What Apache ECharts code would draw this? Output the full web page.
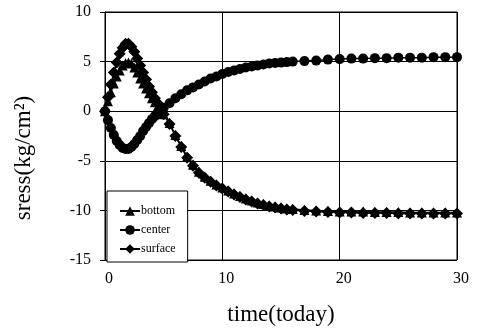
<!DOCTYPE html>
<html>
<head>
<meta charset="utf-8">
<script src="https://cdn.jsdelivr.net/npm/echarts@6/dist/echarts.min.js"></script>
<style>
  html, body { margin: 0; padding: 0; background: #fff; }
  #chart { width: 480px; height: 331px; }
</style>
</head>
<body>
<div id="chart"></div>
<script>
// time (days)
var times = [0,0.25,0.5,0.75,1,1.25,1.5,1.75,2,2.25,2.5,2.75,3,3.25,3.5,3.75,4,4.25,4.5,4.75,5,
  5.5,6,6.5,7,7.5,8,8.5,9,9.5,10,10.5,11,11.5,12,12.5,13,13.5,14,14.5,15,15.5,16,
  17,18,19,20,21,22,23,24,25,26,27,28,29,30];

var bottom = [0,1.0,1.9,2.8,3.5,4.1,4.6,4.85,4.9,4.8,4.4,3.9,3.3,2.8,2.3,1.8,1.3,0.9,0.5,0.1,-0.3,
  -1.2,-2.4,-3.5,-4.6,-5.4,-6.1,-6.6,-7.0,-7.4,-7.7,-8.0,-8.3,-8.55,-8.8,-9.0,-9.2,-9.35,-9.5,-9.6,-9.7,-9.8,-9.85,
  -9.95,-10.0,-10.05,-10.1,-10.1,-10.1,-10.15,-10.15,-10.15,-10.2,-10.2,-10.2,-10.2,-10.2];

var center = [0,-0.9,-1.7,-2.4,-3.0,-3.4,-3.7,-3.8,-3.8,-3.6,-3.3,-2.9,-2.5,-2.0,-1.6,-1.2,-0.8,-0.5,-0.2,0.1,0.35,
  0.8,1.3,1.7,2.1,2.4,2.7,3.0,3.3,3.5,3.75,3.95,4.1,4.25,4.4,4.5,4.6,4.7,4.8,4.85,4.9,4.95,5.0,
  5.05,5.1,5.2,5.25,5.3,5.3,5.35,5.35,5.4,5.4,5.4,5.45,5.45,5.45];

var surface = [0,1.4,2.7,3.9,4.9,5.8,6.4,6.8,6.8,6.5,6.0,5.3,4.6,3.9,3.2,2.5,1.9,1.3,0.8,0.2,-0.3,
  -1.3,-2.5,-3.6,-4.7,-5.5,-6.2,-6.7,-7.1,-7.5,-7.8,-8.1,-8.4,-8.65,-8.9,-9.1,-9.3,-9.45,-9.6,-9.7,-9.8,-9.9,-9.95,
  -10.05,-10.1,-10.15,-10.2,-10.2,-10.25,-10.25,-10.25,-10.3,-10.3,-10.3,-10.3,-10.3,-10.3];

var seriesNames = ['bottom', 'center', 'surface'];
var seriesSymbols = ['triangle', 'circle', 'diamond'];
var seriesSizes = [10, 10, 12];

function pairs(vals) {
  return times.map(function (t, i) { return [t, vals[i]]; });
}

var chart = echarts.init(document.getElementById('chart'));
var font = '"Liberation Serif", "DejaVu Serif", serif';

var allData = [bottom, center, surface];
var seriesArr = allData.map(function (vals, i) {
  return {
    name: seriesNames[i],
    type: 'line',
    data: pairs(vals),
    symbol: seriesSymbols[i],
    symbolSize: seriesSizes[i],
    showAllSymbol: true,
    itemStyle: { color: '#000' },
    lineStyle: { color: '#000', width: 1.5 },
    animation: false
  };
});

chart.setOption({
  backgroundColor: '#fff',
  textStyle: { fontFamily: font },
  grid: { left: 105, right: 23, top: 12, bottom: 69, show: true, borderColor: '#000', borderWidth: 1 },
  xAxis: {
    type: 'value',
    min: 0, max: 30, interval: 10,
    name: 'time(today)',
    nameLocation: 'middle',
    nameGap: 43,
    nameTextStyle: { fontFamily: font, fontSize: 23, color: '#000' },
    axisLine: { show: true, lineStyle: { color: '#000' } },
    axisTick: { show: false },
    axisLabel: { fontFamily: font, fontSize: 16, color: '#000', margin: 11, padding: [0, 0, 0, 8] },
    splitLine: { show: true, lineStyle: { color: '#000', width: 1 } }
  },
  yAxis: {
    type: 'value',
    min: -15, max: 10, interval: 5,
    name: 'sress(kg/cm²)',
    nameLocation: 'middle',
    nameGap: 70,
    nameTextStyle: { fontFamily: font, fontSize: 23, color: '#000', padding: [0, 0, 0, -44] },
    axisLine: { show: true, lineStyle: { color: '#000' } },
    axisTick: { show: true, length: 5, inside: false, lineStyle: { color: '#000' } },
    axisLabel: { fontFamily: font, fontSize: 16, color: '#000', margin: 14 },
    splitLine: { show: true, lineStyle: { color: '#000', width: 1 } }
  },
  legend: {
    data: seriesNames,
    orient: 'vertical',
    left: 107,
    top: 191,
    padding: [14, 12, 7, 12],
    itemGap: 7,
    itemWidth: 20,
    itemHeight: 12,
    backgroundColor: '#fff',
    borderColor: '#000',
    borderWidth: 1,
    textStyle: { fontFamily: font, fontSize: 12, color: '#000', padding: [0, 0, 0, -4] }
  },
  series: seriesArr
});
</script>
</body>
</html>
